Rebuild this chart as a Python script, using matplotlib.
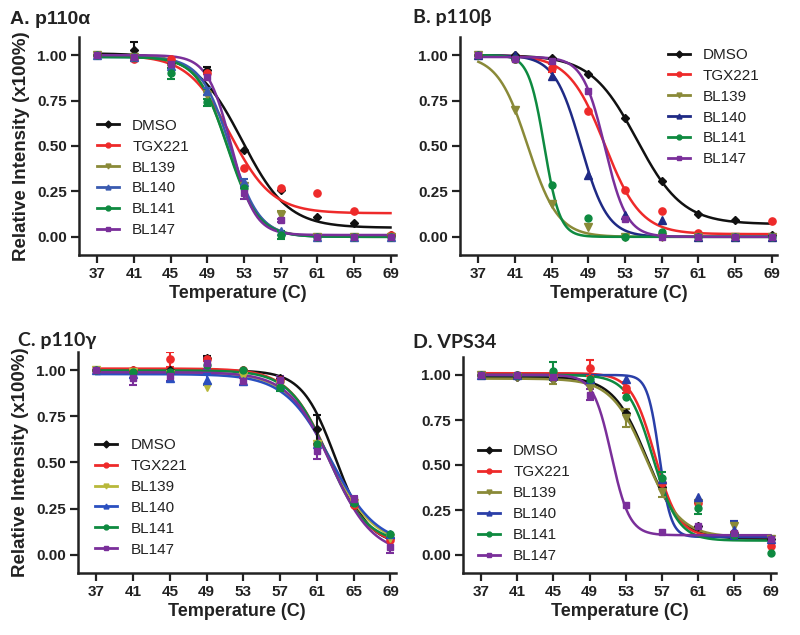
import numpy as np
import matplotlib
matplotlib.use("Agg")
import matplotlib.pyplot as plt

plt.rcParams['font.family'] = ['Liberation Sans', 'DejaVu Sans']

temps = [37, 41, 45, 49, 53, 57, 61, 65, 69]
series = ["DMSO", "TGX221", "BL139", "BL140", "BL141", "BL147"]
markers = ["D", "o", "v", "^", "o", "s"]
marker_sizes = [4.2, 5.2, 5.5, 5.5, 5.0, 4.8]

# ---------------- Panel A: p110alpha ----------------
A_vals = {
    "DMSO":   [1.00, 1.03, 0.95, 0.92, 0.48, 0.26, 0.11, 0.075, 0.01],
    "TGX221": [1.00, 0.98, 0.98, 0.90, 0.38, 0.27, 0.24, 0.14, 0.01],
    "BL139":  [1.00, 0.99, 0.93, 0.78, 0.28, 0.12, 0.00, 0.00, 0.00],
    "BL140":  [1.00, 0.99, 0.94, 0.80, 0.30, 0.03, 0.00, 0.00, 0.00],
    "BL141":  [1.00, 0.99, 0.90, 0.74, 0.27, 0.01, 0.00, 0.00, 0.00],
    "BL147":  [1.00, 0.99, 0.95, 0.88, 0.24, 0.09, 0.00, 0.00, 0.00],
}
A_err = {
    "DMSO":   [0, 0.04, 0, 0.015, 0, 0, 0, 0, 0],
    "TGX221": [0, 0.01, 0, 0, 0, 0, 0, 0, 0],
    "BL139":  [0, 0, 0, 0.02, 0, 0.02, 0, 0, 0],
    "BL140":  [0, 0, 0, 0.02, 0.02, 0, 0, 0, 0],
    "BL141":  [0, 0, 0.03, 0.02, 0, 0.02, 0, 0, 0],
    "BL147":  [0, 0, 0, 0.015, 0.03, 0.01, 0, 0, 0],
}
# Boltzmann fit parameters: top, bottom, Tm, slope
A_fit = {
    "DMSO":   [1.01, 0.05, 52.8, 2.5],
    "TGX221": [1.00, 0.13, 51.5, 2.3],
    "BL139":  [1.00, 0.00, 51.2, 1.7],
    "BL140":  [0.99, 0.00, 51.5, 1.6],
    "BL141":  [0.99, 0.00, 51.2, 1.65],
    "BL147":  [1.00, 0.01, 51.6, 1.3],
}
A_colors = ["#111111", "#ee2a2a", "#8a8a38", "#3a5bb0", "#0e8a40", "#7a2f9a"]

# ---------------- Panel B: p110beta ----------------
B_vals = {
    "DMSO":   [1.00, 1.00, 0.985, 0.895, 0.655, 0.31, 0.125, 0.09, 0.01],
    "TGX221": [1.00, 0.98, 0.93, 0.69, 0.26, 0.14, 0.02, 0.00, 0.085],
    "BL139":  [1.00, 0.70, 0.18, 0.055, 0.00, 0.00, 0.00, 0.00, 0.00],
    "BL140":  [1.00, 1.00, 0.885, 0.34, 0.12, 0.09, 0.00, 0.00, 0.00],
    "BL141":  [1.00, 0.98, 0.285, 0.105, 0.00, 0.025, 0.00, 0.00, 0.00],
    "BL147":  [1.00, 0.98, 0.97, 0.805, 0.10, 0.00, 0.00, 0.00, 0.00],
}
B_err = {k: [0] * 9 for k in series}
B_err["TGX221"] = [0, 0, 0.02, 0, 0, 0, 0, 0, 0]
B_fit = {
    "DMSO":   [1.00, 0.07, 54.3, 2.5],
    "TGX221": [1.00, 0.015, 50.8, 1.97],
    "BL139":  [1.00, 0.00, 42.4, 1.65],
    "BL140":  [1.00, 0.00, 48.2, 1.45],
    "BL141":  [1.00, 0.00, 44.2, 0.85],
    "BL147":  [0.99, 0.00, 50.8, 1.2],
}
B_colors = ["#111111", "#ee2a2a", "#8a8a38", "#1f2a85", "#0e8a40", "#7a2f9a"]

# ---------------- Panel C: p110gamma ----------------
C_vals = {
    "DMSO":   [1.00, 1.00, 1.00, 1.07, 1.00, 0.96, 0.68, 0.27, 0.09],
    "TGX221": [1.00, 1.00, 1.06, 1.06, 1.00, 0.95, 0.60, 0.27, 0.08],
    "BL139":  [1.00, 0.99, 0.98, 0.91, 0.97, 0.92, 0.60, 0.28, 0.09],
    "BL140":  [1.00, 0.98, 0.96, 0.95, 0.94, 0.92, 0.60, 0.29, 0.11],
    "BL141":  [1.00, 0.99, 0.99, 1.03, 1.00, 0.91, 0.60, 0.28, 0.11],
    "BL147":  [1.00, 0.96, 0.97, 1.04, 0.94, 0.95, 0.56, 0.30, 0.04],
}
C_err = {
    "DMSO":   [0, 0, 0, 0.01, 0, 0, 0.08, 0, 0],
    "TGX221": [0, 0, 0.04, 0.01, 0, 0, 0, 0, 0],
    "BL139":  [0, 0, 0, 0, 0, 0, 0, 0, 0],
    "BL140":  [0, 0.02, 0.02, 0.03, 0, 0, 0, 0, 0],
    "BL141":  [0, 0, 0, 0, 0, 0.02, 0, 0, 0],
    "BL147":  [0, 0.04, 0.03, 0.03, 0.02, 0.02, 0.04, 0.02, 0.03],
}
C_fit = {
    "DMSO":   [1.00, 0.05, 63.0, 1.8],
    "TGX221": [1.01, 0.04, 62.3, 2.2],
    "BL139":  [0.99, 0.05, 62.4, 2.4],
    "BL140":  [0.98, 0.05, 62.5, 2.5],
    "BL141":  [1.00, 0.06, 62.2, 2.1],
    "BL147":  [0.99, 0.00, 62.5, 2.3],
}
C_colors = ["#111111", "#ee2a2a", "#b8b83a", "#2a4fc0", "#0e8a40", "#7a2f9a"]

# ---------------- Panel D: VPS34 ----------------
D_vals = {
    "DMSO":   [1.00, 0.99, 0.98, 0.96, 0.79, 0.38, 0.16, 0.12, 0.09],
    "TGX221": [1.00, 1.00, 1.00, 1.04, 0.93, 0.40, 0.29, 0.12, 0.05],
    "BL139":  [1.00, 0.99, 0.97, 0.93, 0.76, 0.35, 0.29, 0.16, 0.09],
    "BL140":  [1.00, 1.00, 1.00, 0.98, 0.98, 0.42, 0.32, 0.14, 0.09],
    "BL141":  [1.00, 1.00, 1.02, 0.98, 0.88, 0.43, 0.26, 0.11, 0.01],
    "BL147":  [1.00, 1.00, 0.99, 0.89, 0.28, 0.13, 0.16, 0.12, 0.09],
}
D_err = {
    "DMSO":   [0, 0, 0, 0, 0, 0, 0, 0, 0],
    "TGX221": [0, 0, 0, 0.045, 0.03, 0, 0, 0, 0],
    "BL139":  [0, 0, 0.02, 0, 0.05, 0.03, 0, 0.03, 0],
    "BL140":  [0, 0, 0, 0, 0, 0, 0, 0.05, 0],
    "BL141":  [0, 0, 0.05, 0, 0, 0.03, 0.03, 0, 0],
    "BL147":  [0, 0, 0, 0.03, 0, 0, 0, 0, 0],
}
D_fit = {
    "DMSO":   [0.99, 0.09, 55.3, 1.86],
    "TGX221": [1.01, 0.10, 56.2, 1.3],
    "BL139":  [0.98, 0.10, 55.2, 1.9],
    "BL140":  [1.00, 0.10, 56.7, 0.65],
    "BL141":  [1.00, 0.08, 56.0, 1.4],
    "BL147":  [1.00, 0.11, 51.4, 1.0],
}
D_colors = ["#111111", "#ee2a2a", "#8a8a38", "#2a3fa8", "#0e8a40", "#7a2f9a"]

titles = ["A. p110\u03b1", "B. p110\u03b2", "C. p110\u03b3", "D. VPS34"]
xticks = [37, 41, 45, 49, 53, 57, 61, 65, 69]
yticks = [0.00, 0.25, 0.50, 0.75, 1.00]
ylabel = "Relative Intensity (x100%)"
xlabel = "Temperature (C)"

fig = plt.figure(figsize=(8, 6.35), dpi=100)

W, H = 800, 635
def axpos(l, r, t, b):
    return [l / W, 1 - b / H, (r - l) / W, (b - t) / H]

panels = [
    (axpos(79, 396, 37, 255), A_vals, A_err, A_fit, A_colors, (0.057, 0.625), True),
    (axpos(460, 777, 37, 255), B_vals, B_err, B_fit, B_colors, (0.656, 0.950), False),
    (axpos(78, 396, 352, 573), C_vals, C_err, C_fit, C_colors, (0.054, 0.610), True),
    (axpos(463, 776, 357, 573), D_vals, D_err, D_fit, D_colors, (0.048, 0.595), False),
]

tpos = [(10, 20, 'Liberation Sans', 14), (413, 18, 'Lato', 14),
        (18, 340, 'Lato', 14), (413, 343, 'Lato', 14)]

tt = np.linspace(37, 69, 400)
for i, (pos, vals, errs, fits, cols, lpos, showy) in enumerate(panels):
    ax = fig.add_axes(pos)
    for j, name in enumerate(series):
        top, bot, tm, s = fits[name]
        curve = bot + (top - bot) / (1 + np.exp((tt - tm) / s))
        c = cols[j]
        ax.plot(tt, curve, color=c, lw=1.8, zorder=2 + j * 0.1)
        e = np.array(errs[name])
        v = np.array(vals[name])
        mask = e > 0
        if mask.any():
            ax.errorbar(np.array(temps)[mask], v[mask], yerr=e[mask], fmt='none',
                        ecolor=c, elinewidth=1.5, capsize=3, capthick=1.5, zorder=3)
        ax.plot(temps, v, ls='none', marker=markers[j], ms=marker_sizes[j],
                color=c, mec=c, zorder=4)
        ax.plot([], [], color=c, lw=2.0, marker=markers[j], ms=3.5, label=name)
    ax.set_xlim(35, 69.6)
    ax.set_ylim(-0.1, 1.1)
    ax.set_xticks(xticks)
    ax.set_xticklabels([str(x) for x in xticks])
    ax.set_yticks(yticks)
    ax.set_yticklabels(["%.2f" % y for y in yticks])
    for sp in ['top', 'right']:
        ax.spines[sp].set_visible(False)
    for sp in ['left', 'bottom']:
        ax.spines[sp].set_linewidth(1.8)
        ax.spines[sp].set_color('#222222')
    ax.tick_params(direction='out', length=6, width=1.6, color='#222222',
                   labelsize=11, pad=2.5)
    for lab in ax.get_xticklabels() + ax.get_yticklabels():
        lab.set_fontweight('bold')
        lab.set_color('#222222')
    ax.set_xlabel(xlabel, fontsize=13, fontweight='bold', color='#222222', labelpad=3)
    if showy:
        ax.set_ylabel(ylabel, fontsize=13.5, fontweight='bold', color='#222222', labelpad=5)
    leg = ax.legend(loc='upper left', bbox_to_anchor=lpos, frameon=False,
                    fontsize=11, handlelength=1.45, handletextpad=0.85,
                    labelspacing=0.45, borderpad=0, borderaxespad=0, numpoints=1)
    for t in leg.get_texts():
        t.set_color('#222222')
    x, y, fam, fs = tpos[i]
    fig.text(x / W, 1 - y / H, titles[i], fontsize=fs, fontweight='bold',
             family=[fam, 'DejaVu Sans'], va='center', ha='left', color='#222222')

fig.savefig("out.png", dpi=100)
